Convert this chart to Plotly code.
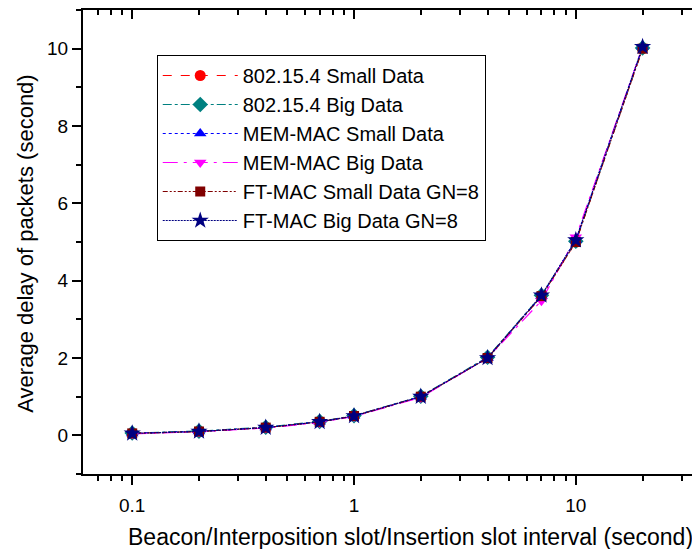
import plotly.graph_objects as go
import numpy as np

x_vals = [0.1, 0.2, 0.4, 0.7, 1, 2, 4, 7, 10, 20]
s_802_small = [0.05, 0.10, 0.20, 0.35, 0.50, 1.00, 2.00, 3.60, 5.00, 10.00]
s_802_big = [0.06, 0.11, 0.21, 0.36, 0.51, 1.01, 2.02, 3.62, 5.02, 10.02]
s_mem_small = [0.05, 0.10, 0.20, 0.35, 0.50, 1.00, 2.00, 3.60, 5.05, 10.05]
s_mem_big = [0.04, 0.09, 0.19, 0.33, 0.49, 0.98, 2.00, 3.48, 5.12, 10.05]
s_ft_small = [0.05, 0.10, 0.20, 0.35, 0.50, 1.00, 2.00, 3.60, 5.00, 10.00]
s_ft_big = [0.05, 0.10, 0.20, 0.35, 0.50, 1.00, 2.00, 3.62, 5.05, 10.05]

series_names = ["802.15.4 Small Data", "802.15.4 Big Data", "MEM-MAC Small Data",
                "MEM-MAC Big Data", "FT-MAC Small Data GN=8", "FT-MAC Big Data GN=8"]
x_major = [0.1, 1, 10]
x_major_text = ["0.1", "1", "10"]
x_minor = [0.07, 0.08, 0.09, 0.2, 0.3, 0.4, 0.5, 0.6, 0.7, 0.8, 0.9,
           2, 3, 4, 5, 6, 7, 8, 9, 20, 30]
x_title = "Beacon/Interposition slot/Insertion slot interval (second)"
y_title = "Average delay of packets (second)"

styles = [
    dict(color="#FF0000", dash="dash", symbol="circle", size=11),
    dict(color="#008080", dash="dashdot", symbol="diamond", size=12),
    dict(color="#0000FF", dash="dot", symbol="triangle-up", size=11),
    dict(color="#FF00FF", dash="longdashdot", symbol="triangle-down", size=11),
    dict(color="#800000", dash="5px,2px,2px,2px,2px,2px", symbol="square", size=10),
    dict(color="#000080", dash="2px,1px", symbol="star", size=13),
]
data = [s_802_small, s_802_big, s_mem_small, s_mem_big, s_ft_small, s_ft_big]

fig = go.Figure()
for name, ys, st in zip(series_names, data, styles):
    fig.add_trace(go.Scatter(
        x=x_vals, y=ys, name=name, mode="lines+markers",
        line=dict(color=st["color"], dash=st["dash"], width=1.2),
        marker=dict(color=st["color"], symbol=st["symbol"], size=st["size"],
                    line=dict(width=0)),
    ))
# invisible trace to anchor the top mirror axis
fig.add_trace(go.Scatter(x=[x_vals[0]], y=[s_802_small[0]], xaxis="x2", yaxis="y",
                         mode="markers", marker=dict(opacity=0), showlegend=False,
                         hoverinfo="skip"))

xr = [np.log10(0.06), np.log10(36.3)]
font = "Arial, Liberation Sans, sans-serif"

# page body has an 8px margin; figure sized so the plot area lands where the reference has it
W, H = 692, 541
L, T, B = 75.3, 2, 75
pw, ph = W - L, H - T - B

fig.update_layout(
    width=W, height=H,
    margin=dict(l=L, r=0, t=T, b=B, pad=0),
    paper_bgcolor="white", plot_bgcolor="white",
    font=dict(family=font, color="black", size=19),
    showlegend=True,
    legend=dict(x=(149 - L) / pw, y=1 - (47 - T) / ph, xanchor="left", yanchor="top",
                bordercolor="black", borderwidth=1, bgcolor="white",
                font=dict(size=20, family=font), itemwidth=75,
                tracegroupgap=0),
    xaxis=dict(type="log", range=xr, showline=True, linecolor="black", linewidth=2,
               ticks="outside", ticklen=9, tickwidth=1.5, tickcolor="black",
               tickmode="array", tickvals=x_major, ticktext=x_major_text,
               minor=dict(tickmode="array", tickvals=x_minor, ticks="outside",
                          ticklen=5, tickwidth=1.5, tickcolor="black"),
               showgrid=False, zeroline=False, automargin=False,
               ticklabelstandoff=4, tickfont=dict(size=19)),
    xaxis2=dict(type="log", range=xr, overlaying="x", side="top", anchor="y",
                showline=True, linecolor="black", linewidth=2,
                ticks="inside", ticklen=9, tickwidth=1.5, tickcolor="black",
                tickmode="array", tickvals=x_major, showticklabels=False,
                minor=dict(tickmode="array", tickvals=x_minor, ticks="inside",
                           ticklen=5, tickwidth=1.5, tickcolor="black"),
                showgrid=False, zeroline=False, automargin=False),
    yaxis=dict(range=[-1, 11], showline=True, linecolor="black", linewidth=2,
               ticks="outside", ticklen=9, tickwidth=1.5, tickcolor="black",
               tickmode="linear", tick0=0, dtick=2,
               minor=dict(ticks="outside", dtick=1, tick0=1, ticklen=5,
                          tickwidth=1.5, tickcolor="black"),
               showgrid=False, zeroline=False, automargin=False,
               tickfont=dict(size=19)),
    annotations=[
        dict(text=x_title, xref="paper", yref="paper", x=(403 - L) / pw,
             y=-(529 - (H - B)) / ph, xanchor="center", yanchor="middle",
             showarrow=False, font=dict(size=23, family=font)),
        dict(text=y_title, xref="paper", yref="paper", x=-(L - 17) / pw,
             y=1 - (236 - T) / ph, xanchor="center", yanchor="middle",
             textangle=-90, showarrow=False, font=dict(size=22, family=font)),
    ],
)

fig.write_html("out.html")
